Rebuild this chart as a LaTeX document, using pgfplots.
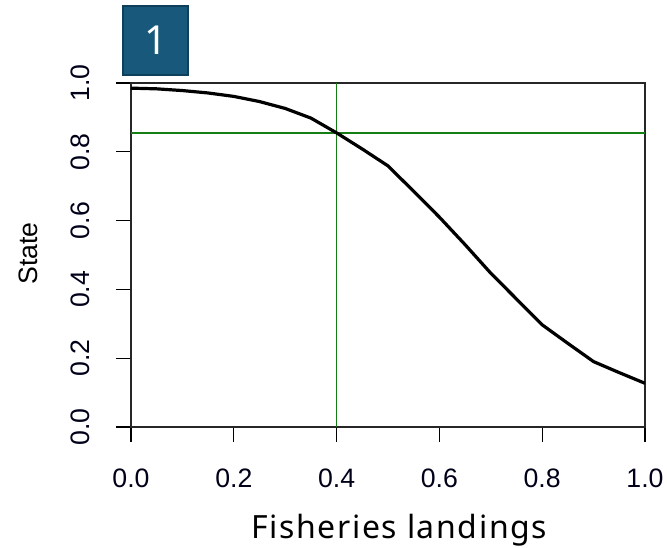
\documentclass[border=0pt]{standalone}
\usepackage{pgfplots}
\pgfplotsset{compat=1.18}
\usepackage{fontspec}
\setmainfont{Liberation Sans}
\newfontfamily\labelfont[LetterSpace=5]{Noto Sans}
\newfontfamily\boxfont{Noto Sans}
\definecolor{boxblue}{RGB}{24,88,122}
\definecolor{boxedge}{RGB}{14,64,92}
\definecolor{rgreen}{RGB}{20,125,20}
\begin{document}
\begin{tikzpicture}[x=0.75pt,y=0.75pt]
\useasboundingbox (-131,-121) rectangle (536,427);
\begin{axis}[
  at={(0,0)}, anchor=south west,
  scale only axis, width=385.5pt, height=258pt,
  xmin=0, xmax=1, ymin=0, ymax=1,
  xtick={0,0.2,0.4,0.6,0.8,1}, ytick={0,0.2,0.4,0.6,0.8,1},
  tick align=outside, major tick length=11.25pt,
  tick style={black, line width=0.9pt},
  axis line style={line width=0.9pt, black!85},
  xtick pos=bottom, ytick pos=left,
  /pgf/number format/.cd, fixed, fixed zerofill, precision=1, assume math mode=true,
  /pgfplots/.cd,
  tick label style={font=\fontsize{20}{24}\selectfont, text=black!90!blue},
  xticklabel style={anchor=base, yshift=-34.5pt},
  yticklabel style={xshift=-19.5pt, rotate=90, anchor=base},
  xlabel={Fisheries landings},
  xlabel style={font=\labelfont\fontsize{24}{28}\selectfont, at={(axis description cs:0.522,-0.3227)}, anchor=base},
  ylabel={State},
  ylabel style={font=\fontsize{20}{24}\selectfont, at={(axis description cs:-0.182,0.504)}, anchor=base},
]
\addplot[rgreen, line width=1pt] coordinates {(0.4,0) (0.4,1)};
\addplot[rgreen, line width=1pt] coordinates {(0,0.855) (1,0.855)};
\addplot[black, line width=2.4pt] coordinates {
(0,0.985) (0.05,0.983) (0.1,0.978) (0.15,0.971) (0.2,0.961) (0.25,0.946)
(0.3,0.926) (0.35,0.898) (0.4,0.855) (0.45,0.808) (0.5,0.759) (0.55,0.685)
(0.6,0.61) (0.65,0.53) (0.7,0.447) (0.75,0.372) (0.8,0.297) (0.85,0.243)
(0.9,0.19) (0.95,0.158) (1,0.127)};
\end{axis}
\filldraw[fill=boxblue, draw=boxedge, line width=2.2pt] (-8,352) rectangle (57,421);
\node[text=white, font=\boxfont\fontsize{30}{36}\selectfont] at (24.5,386.5) {1};
\end{tikzpicture}
\end{document}
